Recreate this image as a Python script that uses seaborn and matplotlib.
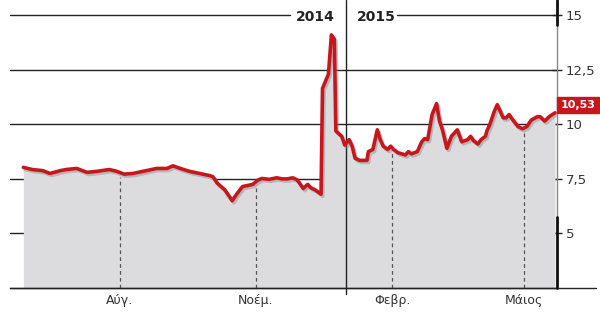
import matplotlib
matplotlib.use("Agg")
import matplotlib.pyplot as plt
import matplotlib.patheffects as pe
import matplotlib.dates as mdates
import numpy as np
import pandas as pd
import seaborn as sns

# ---- data ----
dates = ["2014-05-28", "2014-06-03", "2014-06-10", "2014-06-15", "2014-06-22", "2014-06-26", "2014-07-03", "2014-07-10", "2014-07-17", "2014-07-25",
         "2014-07-30", "2014-08-04", "2014-08-10", "2014-08-17", "2014-08-26", "2014-09-02", "2014-09-06", "2014-09-11", "2014-09-17", "2014-09-24",
         "2014-10-01", "2014-10-03", "2014-10-06", "2014-10-11", "2014-10-16", "2014-10-19", "2014-10-23", "2014-10-30", "2014-11-02", "2014-11-05",
         "2014-11-10", "2014-11-15", "2014-11-19", "2014-11-22", "2014-11-26", "2014-11-29", "2014-12-03", "2014-12-06", "2014-12-08", "2014-12-11",
         "2014-12-15", "2014-12-16", "2014-12-20", "2014-12-22", "2014-12-24", "2014-12-25", "2014-12-29", "2014-12-31", "2015-01-03", "2015-01-05",
         "2015-01-07", "2015-01-10", "2015-01-15", "2015-01-16", "2015-01-19", "2015-01-22", "2015-01-24", "2015-01-26", "2015-01-29", "2015-01-31",
         "2015-02-02", "2015-02-05", "2015-02-10", "2015-02-12", "2015-02-14", "2015-02-18", "2015-02-21", "2015-02-23", "2015-02-25", "2015-02-28",
         "2015-03-03", "2015-03-05", "2015-03-07", "2015-03-10", "2015-03-13", "2015-03-17", "2015-03-20", "2015-03-24", "2015-03-26", "2015-03-28",
         "2015-03-31", "2015-04-02", "2015-04-05", "2015-04-06", "2015-04-08", "2015-04-11", "2015-04-13", "2015-04-17", "2015-04-19", "2015-04-21",
         "2015-04-23", "2015-04-27", "2015-04-30", "2015-05-03", "2015-05-06", "2015-05-10", "2015-05-12", "2015-05-15", "2015-05-18", "2015-05-22"]
values = [8.03, 7.93, 7.88, 7.75, 7.88, 7.93, 7.98, 7.8, 7.85, 7.93,
          7.85, 7.72, 7.75, 7.85, 7.98, 7.98, 8.1, 7.98, 7.85, 7.75,
          7.65, 7.6, 7.3, 7.0, 6.5, 6.8, 7.15, 7.25, 7.43, 7.52,
          7.48, 7.55, 7.5, 7.5, 7.55, 7.45, 7.06, 7.25, 7.1, 7.0,
          6.8, 11.65, 12.3, 14.1, 13.9, 9.7, 9.45, 9.05, 9.3, 9.0,
          8.45, 8.35, 8.35, 8.75, 8.85, 9.75, 9.3, 9.0, 8.85, 9.0,
          8.85, 8.7, 8.6, 8.75, 8.65, 8.75, 9.2, 9.35, 9.3, 10.45,
          10.95, 10.15, 9.75, 8.9, 9.45, 9.75, 9.2, 9.3, 9.45, 9.25,
          9.1, 9.3, 9.45, 9.7, 10.0, 10.6, 10.9, 10.3, 10.3, 10.45,
          10.25, 9.9, 9.8, 9.9, 10.2, 10.35, 10.35, 10.15, 10.35, 10.53]
month_ticks = ["2014-08-01", "2014-11-01", "2015-02-01", "2015-05-01"]
month_labels = ["Αύγ.", "Νοέμ.", "Φεβρ.", "Μάιος"]
y_ticks = [5, 7.5, 10, 12.5, 15]
y_labels = ["5", "7,5", "10", "12,5", "15"]
year_break = "2015-01-01"
year_labels = ["2014", "2015"]
last_label = "10,53"

# ---- style ----
sns.set_style("white")
plt.rcParams["font.family"] = ["Liberation Sans Narrow", "DejaVu Sans"]

RED = "#c8161d"
FILL = "#dcdcde"

df = pd.DataFrame({"date": pd.to_datetime(dates), "value": values})

fig = plt.figure(figsize=(6.0, 3.25), dpi=100)
ax = fig.add_axes([10 / 600, 37 / 325, 547 / 600, 288 / 325])

ax.set_ylim(2.5, 15.7)
ax.set_xlim(pd.Timestamp("2014-05-19"), pd.Timestamp("2015-05-23 08:00"))

# gridlines (behind fill)
for yv in y_ticks:
    if yv == 15:
        ax.axhline(yv, xmin=0, xmax=0.512, color="#222222", lw=1.0, zorder=1)
        ax.axhline(yv, xmin=0.7075, xmax=1.0, color="#222222", lw=1.0, zorder=1)
    else:
        ax.axhline(yv, color="#222222", lw=1.0, zorder=1)

# fill
ax.fill_between(df["date"], 2.5, df["value"], color=FILL, lw=0, zorder=2)

# month dashed lines up to the curve
xnum = mdates.date2num(df["date"])
for d in month_ticks:
    dn = mdates.date2num(pd.Timestamp(d))
    top = np.interp(dn, xnum, df["value"])
    ax.plot([pd.Timestamp(d), pd.Timestamp(d)], [2.5, top - 0.2], color="#555555",
            lw=0.9, ls=(0, (3, 2.5)), zorder=3)

# year boundary line
ax.axvline(pd.Timestamp(year_break), ymin=-0.02, ymax=1, color="#222222", lw=1.0,
           zorder=3, clip_on=False)

# red line
sns.lineplot(data=df, x="date", y="value", ax=ax, color=RED, lw=2.6, zorder=5,
             path_effects=[pe.SimpleLineShadow(offset=(1.2, -1.5), shadow_color="#888888", alpha=0.45),
                           pe.Normal()])

# spines
for s in ["top", "left"]:
    ax.spines[s].set_visible(False)
ax.spines["right"].set_color("#888888")
ax.spines["right"].set_linewidth(1.0)
ax.spines["bottom"].set_color("#222222")
ax.spines["bottom"].set_linewidth(1.0)
ax.plot([0, 1.071], [0, 0], transform=ax.transAxes, color="#222222", lw=1.0, clip_on=False, zorder=6)
ax.plot([1, 1], [1, 1 - 25 / 288], transform=ax.transAxes, color="#111111", lw=2.0, clip_on=False, zorder=6)
ax.plot([1, 1], [(288 - 217) / 288, 0], transform=ax.transAxes, color="#111111", lw=2.0, clip_on=False, zorder=6)

# y ticks on right
ax.yaxis.tick_right()
ax.set_yticks(y_ticks)
ax.set_yticklabels(y_labels)
ax.tick_params(axis="y", direction="inout", length=7, width=1.0, color="#222222",
               labelsize=9.5, labelcolor="#333333", pad=3)

# x ticks
ax.set_xticks(pd.to_datetime(month_ticks))
ax.set_xticklabels(month_labels)
ax.tick_params(axis="x", length=0, labelsize=9, labelcolor="#333333", pad=4)
ax.set_xlabel("")
ax.set_ylabel("")

# year labels
yb = pd.Timestamp(year_break)
ax.annotate(year_labels[0], xy=(yb, 15), xytext=(-8, -1.5), textcoords="offset points",
            ha="right", va="center", fontsize=10, fontweight="bold", color="#222222")
ax.annotate(year_labels[1], xy=(yb, 15), xytext=(8, -1.5), textcoords="offset points",
            ha="left", va="center", fontsize=10, fontweight="bold", color="#222222")

# last value box
ax.annotate(last_label, xy=(1.0, values[-1]), xycoords=("axes fraction", "data"),
            xytext=(2.5, 5.5), textcoords="offset points", ha="left", va="center",
            fontsize=8, fontweight="bold", color="white", zorder=10, annotation_clip=False,
            bbox=dict(boxstyle="square,pad=0.3", fc=RED, ec=RED))

fig.savefig("out.png", dpi=100)
